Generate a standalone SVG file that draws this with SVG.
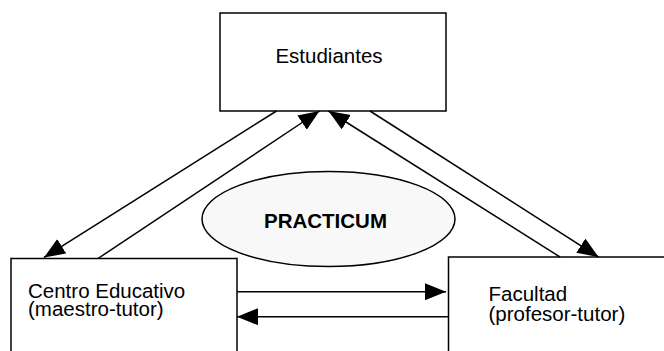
<svg xmlns="http://www.w3.org/2000/svg" width="664" height="351" viewBox="0 0 664 351">
<style>
.box{fill:#ffffff;stroke:#000000;stroke-width:1.5}
.ell{fill:#f8f8f8;stroke:#000000;stroke-width:1.5}
.t{font-family:"Liberation Sans",Arial,sans-serif;font-size:20.5px;fill:#000000}
.b{font-weight:bold}
.c line{stroke:#000000;stroke-width:1.5;marker-end:url(#ah)}
</style>
<defs>
<marker id="ah" markerUnits="userSpaceOnUse" markerWidth="22" markerHeight="18" refX="21" refY="8.5" orient="auto">
<path d="M0,0 L21,8.5 L0,17 Z" fill="#000000"/>
</marker>
</defs>
<rect width="664" height="351" fill="#ffffff"/>
<g id="estudiantes">
<rect class="box" x="220" y="13" width="226" height="98"/>
<text class="t" x="329" y="62.7" text-anchor="middle">Estudiantes</text>
</g>
<g id="practicum">
<ellipse class="ell" cx="328.5" cy="219" rx="126.5" ry="47.5"/>
<text class="t b" x="325.5" y="227.7" text-anchor="middle">PRACTICUM</text>
</g>
<g id="centro">
<rect class="box" x="11" y="258.5" width="226" height="110"/>
<text class="t" x="28" y="297.5">Centro Educativo</text>
<text class="t" x="28" y="316">(maestro-tutor)</text>
</g>
<g id="facultad">
<rect class="box" x="448.5" y="257" width="240" height="110"/>
<text class="t" x="488.5" y="300.5">Facultad</text>
<text class="t" x="488.5" y="320.5">(profesor-tutor)</text>
</g>
<g id="connectors" class="c">
<line x1="276.5" y1="111" x2="44" y2="257.5"/>
<line x1="98" y1="258.5" x2="319.5" y2="111"/>
<line x1="370" y1="111" x2="598.5" y2="257"/>
<line x1="560" y1="257" x2="328.5" y2="111"/>
<line x1="237" y1="291.7" x2="446" y2="291.7"/>
<line x1="448.5" y1="316.7" x2="237" y2="316.7"/>
</g>
</svg>
